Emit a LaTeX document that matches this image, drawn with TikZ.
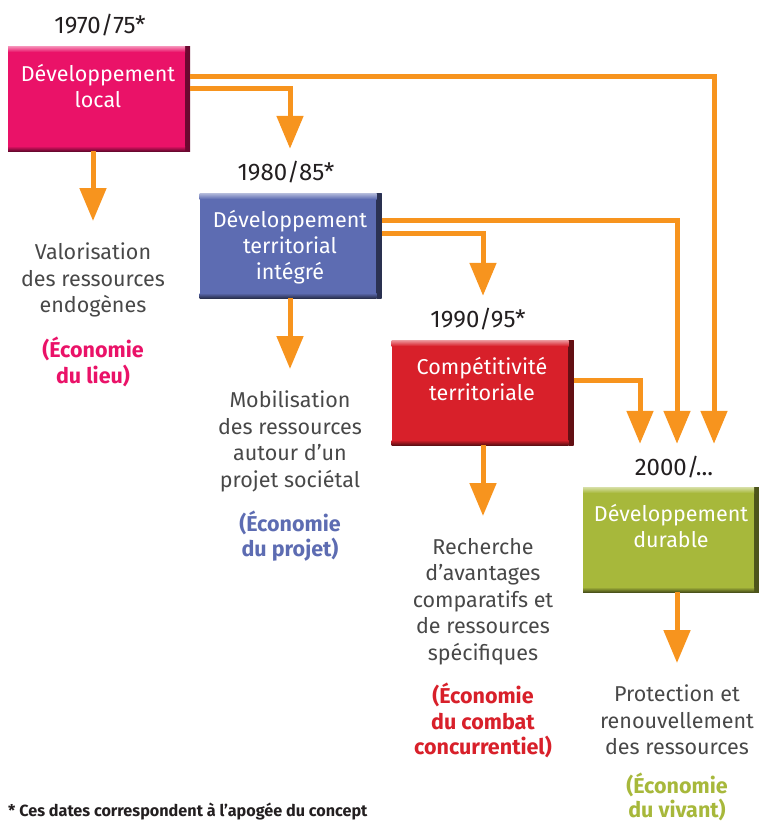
\documentclass[tikz,border=0pt]{standalone}
\usepackage{fontspec}
\setmainfont{Fira Sans}
\usetikzlibrary{arrows.meta}
\definecolor{pinkc}{RGB}{234,18,104}
\definecolor{bluec}{RGB}{93,108,178}
\definecolor{redc}{RGB}{216,32,42}
\definecolor{greenc}{RGB}{167,184,59}
\definecolor{orangec}{RGB}{247,148,30}
\definecolor{grayc}{RGB}{72,72,72}
\definecolor{darkc}{RGB}{35,31,32}
\tikzset{
  dbox/.style={minimum width=182pt, minimum height=105pt, inner sep=0pt, fill=#1,
    path picture={
      \shade[left color=#1, right color=#1!45!black]
        ([xshift=-5pt]path picture bounding box.north east) rectangle (path picture bounding box.south east);
      \shade[top color=#1, bottom color=#1!45!black]
        ([yshift=5pt]path picture bounding box.south west) rectangle ([xshift=-5pt]path picture bounding box.south east);
      \shade[top color=#1!45!white, bottom color=#1]
        (path picture bounding box.north west) rectangle ([yshift=-6pt,xshift=-5pt]path picture bounding box.north east);
    }},
  boxtext/.style={text=white, font=\fontsize{21.5}{26}\selectfont, align=center, anchor=base, inner sep=0pt},
  datelab/.style={text=darkc, font=\fontsize{24}{28}\selectfont, anchor=base, inner xsep=0pt, inner ysep=13pt, text height=18pt, text depth=0pt},
  caption/.style={text=grayc, font=\fontsize{21.5}{26.5}\selectfont, align=center, anchor=north, inner xsep=0pt, inner ysep=22pt},
  econ/.style={font=\fontsize{21.5}{25.5}\selectfont\bfseries, align=center, anchor=north, inner sep=0pt},
  conn/.style={draw=orangec, line width=5pt, -{Triangle[width=26pt,length=33pt]}},
}
\begin{document}
\begin{tikzpicture}[x=1pt,y=-1pt]
\useasboundingbox (0,0) rectangle (759,822);
% boxes
\node[dbox=pinkc]  (b1) at (99,98.5) {};
\node[dbox=bluec]  (b2) at (290.5,245.5) {};
\node[dbox=redc]   (b3) at (482.5,392.5) {};
\node[dbox=greenc, minimum width=176pt] (b4) at (671,539.5) {};
% box texts (base = last line)
\node[boxtext] (t1) at (98,107) {Développement\\local};
\node[boxtext] (t2) at (290,279) {Développement\\territorial\\intégré};
\node[boxtext] (t3) at (482,400) {Compétitivité\\territoriale};
\node[boxtext] (t4) at (671,547) {Développement\\durable};
% dates
\node[datelab] (d1) at (100,33) {1970/75*};
\node[datelab] (d2) at (286,180) {1980/85*};
\node[datelab] (d3) at (478,327) {1990/95*};
\node[datelab] (d4) at (674,475) {2000/...};
% captions
\node[caption] (c1) at (93,221) {Valorisation\\des ressources\\endogènes};
\node[caption] (c2) at (290,369) {Mobilisation\\des ressources\\autour d’un\\projet sociétal};
\node[caption] (c3) at (483,516) {Recherche\\d’avantages\\comparatifs et\\de ressources\\spécifiques};
\node[caption] (c4) at (677,663) {Protection et\\renouvellement\\des ressources};
% economies
\node[econ, text=pinkc]  (e1) at ([yshift=3pt]c1.south) {(Économie\\du lieu)};
\node[econ, text=bluec]  (e2) at ([yshift=4pt]c2.south) {(Économie\\du projet)};
\node[econ, text=redc]   (e3) at ([yshift=4pt]c3.south) {(Économie\\du combat\\concurrentiel)};
\node[econ, text=greenc, font=\fontsize{21.5}{24.5}\selectfont\bfseries] (e4) at ([yshift=5pt]c4.south) {(Économie\\du vivant)};
% footnote
\node[anchor=base west, inner sep=0pt, text=darkc, font=\fontsize{16.2}{19}\selectfont\bfseries] (fn) at (8,816) {* Ces dates correspondent à l’apogée du concept};
% connectors
\draw[conn] ([yshift=22.5pt]b1.east) -| ([xshift=40pt]d4.north);
\draw[conn] ([yshift=10.5pt]b1.east) -| ([xshift=4pt]d2.north);
\draw[conn] (b1.south -| c1.north) -- (c1.north);
\draw[conn] ([yshift=25.5pt]b2.east) -| ([xshift=3pt]d4.north);
\draw[conn] ([yshift=12.5pt]b2.east) -| ([xshift=5pt]d3.north);
\draw[conn] (b2.south -| c2.north) -- (c2.north);
\draw[conn] ([yshift=12.5pt]b3.east) -| ([xshift=-34pt]d4.north);
\draw[conn] (b3.south -| c3.north) -- (c3.north);
\draw[conn] (b4.south -| c4.north) -- (c4.north);
\end{tikzpicture}
\end{document}
